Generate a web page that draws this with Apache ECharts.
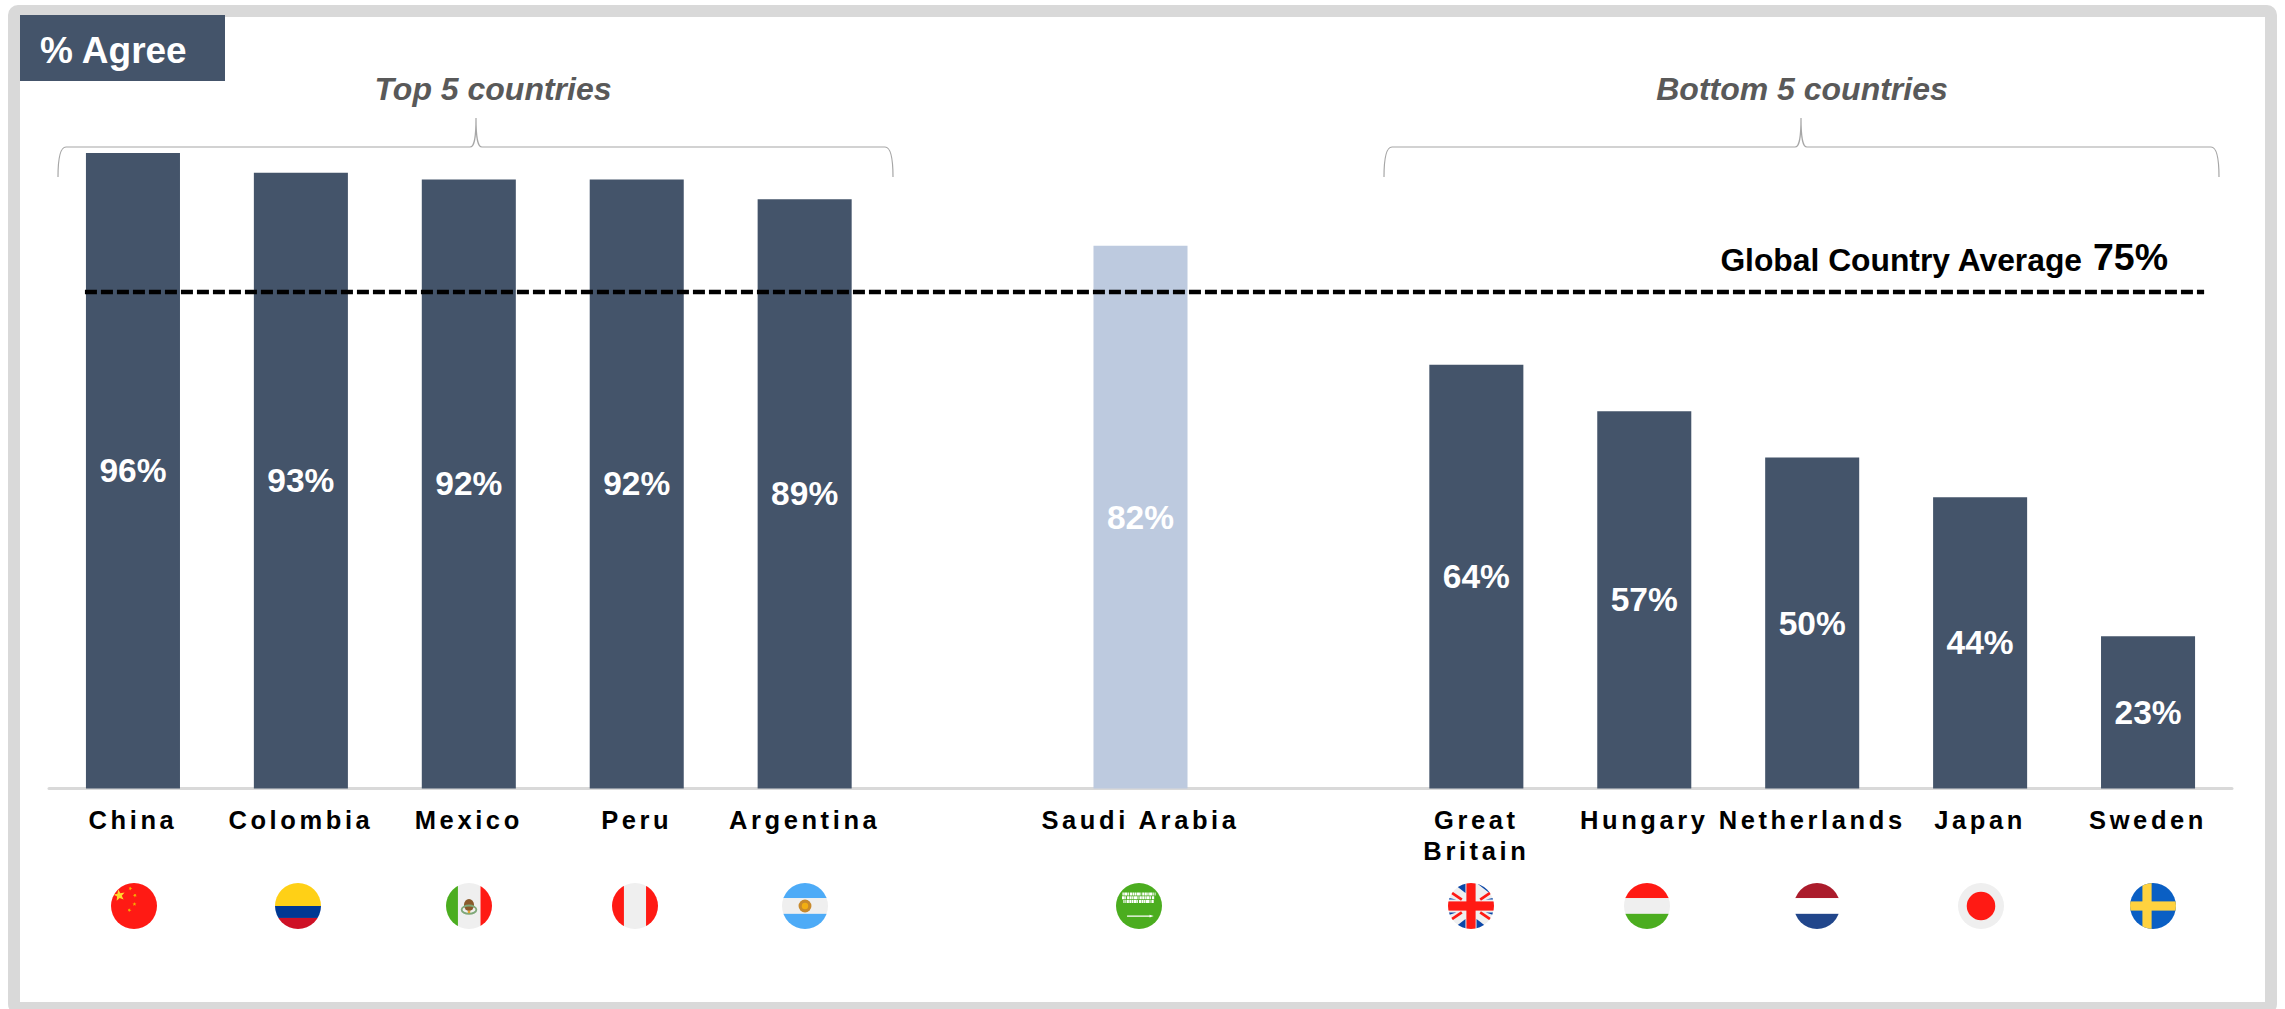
<!DOCTYPE html>
<html>
<head>
<meta charset="utf-8">
<title>% Agree</title>
<style>
html,body{margin:0;padding:0;background:#fff;}
#main{width:2285px;height:1009px;}
#main text[style*="25.5px"]{letter-spacing:3.6px;}
</style>
<script src="https://cdn.jsdelivr.net/npm/echarts@6/dist/echarts.min.js"></script>
</head>
<body>
<div id="main"></div>
<script>
const categories = ['China','Colombia','Mexico','Peru','Argentina','','Saudi Arabia','','Great\nBritain','Hungary','Netherlands','Japan','Sweden'];
const agreeValues = [96,93,92,92,89,null,82,null,64,57,50,44,23];
const highlightedCategory = 'Saudi Arabia';
const globalAverage = 75;
const averageLineSpan = [0.214,12.834];
const groupTitles = ['Top 5 countries','Bottom 5 countries'];
const chartTag = '% Agree';
const averageLabel = 'Global Country Average';

const NAVY = '#44546a', LIGHT = '#bdcadf', FONT = '"Liberation Sans",Arial,sans-serif';

function flagUri(body){
  const svg = '<svg xmlns="http://www.w3.org/2000/svg" viewBox="0 0 100 100"><defs><clipPath id="c"><circle cx="50" cy="50" r="50"/></clipPath></defs><g clip-path="url(#c)">'+body+'</g></svg>';
  return 'data:image/svg+xml;charset=utf-8,'+encodeURIComponent(svg);
}
const R=(x,y,w,h,f)=>`<rect x="${x}" y="${y}" width="${w}" height="${h}" fill="${f}"/>`;
const star=(cx,cy,r,f,rot=0)=>{let p=[];for(let i=0;i<10;i++){const a=(rot-90+i*36)*Math.PI/180,q=i%2?r*0.42:r;p.push((cx+q*Math.cos(a)).toFixed(1)+','+(cy+q*Math.sin(a)).toFixed(1));}return `<polygon points="${p.join(' ')}" fill="${f}"/>`;};
const RED='#ff1a14', GREY='#efefef', GREEN='#4bad1f';
const flags = [
 {x:134, body:R(0,0,100,100,RED)+star(18,27,13,'#ffd92e',-10)+star(42,12,4.5,'#f4b400',20)+star(52,27,4.5,'#f4b400',40)+star(51,46,4.5,'#f4b400',0)+star(40,59,4.5,'#f4b400',20)},
 {x:298, body:R(0,0,100,50,'#ffd016')+R(0,50,100,26,'#003893')+R(0,76,100,24,'#ce1126')},
 {x:469, body:R(0,0,26,100,GREEN)+R(26,0,49,100,GREY)+R(75,0,25,100,RED)+'<ellipse cx="50" cy="48" rx="11" ry="13" fill="#8a5a2b"/><ellipse cx="50" cy="58" rx="16" ry="9" fill="none" stroke="#7fa878" stroke-width="4"/><circle cx="50" cy="63" r="3" fill="#e0a030"/>'},
 {x:635, body:R(0,0,26,100,RED)+R(26,0,48,100,GREY)+R(74,0,26,100,RED)},
 {x:805, body:R(0,0,100,33,'#4dabf7')+R(0,33,100,34,GREY)+R(0,67,100,33,'#4dabf7')+'<circle cx="50" cy="50" r="14" fill="#c98a2c"/><circle cx="50" cy="50" r="7" fill="#f2ae12"/>'},
 {x:1139, body:R(0,0,100,100,GREEN)+'<g stroke="#fff" stroke-width="6.5" stroke-dasharray="3 1 7 1 2 2 5 1 4 1" fill="none"><path d="M14 24H86"/><path d="M13 32H84" stroke-dashoffset="5"/><path d="M16 40H82" stroke-dashoffset="9"/></g><path d="M24 72H74" stroke="#fff" stroke-width="2.5"/><path d="M73 69L82 72L73 75Z" fill="#fff"/>'},
 {x:1471, body:R(0,0,100,100,GREY)+'<g fill="#0b47a8"><path d="M10 0H38V22Z M62 0H90V22Z M0 32V36L18 36Z M100 32V36L82 36Z M0 64H18L0 70Z M100 64H82L100 70Z M38 78V100H10Z M62 78L90 100H62Z"/></g><g stroke="'+RED+'" stroke-width="6"><path d="M6 20L30 36"/><path d="M94 20L70 36"/><path d="M6 80L30 64"/><path d="M94 80L70 64"/></g>'+R(40,0,20,100,RED)+R(0,40,100,20,RED)},
 {x:1647, body:R(0,0,100,33,RED)+R(0,33,100,34,GREY)+R(0,67,100,33,GREEN)},
 {x:1817, body:R(0,0,100,33,'#ab1c2c')+R(0,33,100,34,'#fff')+R(0,67,100,33,'#21468b')},
 {x:1981, body:R(0,0,100,100,GREY)+'<circle cx="50" cy="50" r="31" fill="'+RED+'"/>'},
 {x:2153, body:R(0,0,100,100,'#0a5fc4')+R(27,0,20,100,'#ffd23f')+R(0,40,100,20,'#ffd23f')}
];
const FLAG_D = 46, FLAG_Y = 906;

echarts.graphic.registerShape('braceTop', echarts.graphic.extendPath('M58 177C58 158 60 147 66 147L470 147C474 147 476 140 476 118C476 140 478 147 482 147L885 147C891 147 893 158 893 177',{}));
echarts.graphic.registerShape('braceBottom', echarts.graphic.extendPath('M1384 177C1384 158 1386 147 1392 147L1795 147C1799 147 1801 140 1801 118C1801 140 1803 147 1807 147L2211 147C2217 147 2219 158 2219 177',{}));

const chart = echarts.init(document.getElementById('main'), null, {renderer:'svg', width:2285, height:1009});
chart.setOption({
  animation:false,
  backgroundColor:'#fff',
  grid:{left:49,right:53,top:126.5,bottom:220.5,containLabel:false},
  xAxis:[
    {type:'category',data:categories,
     axisTick:{show:false},
     axisLine:{lineStyle:{color:'#d9d9d9',width:3}},
     axisLabel:{interval:0,margin:16,color:'#000',fontFamily:FONT,fontWeight:'bold',fontSize:25.5,lineHeight:31,hideOverlap:false,verticalAlign:'top'}},
    {type:'value',min:0,max:categories.length,show:false}
  ],
  yAxis:{type:'value',min:0,max:100,show:false,splitLine:{show:false}},
  series:[
    {type:'bar',xAxisIndex:0,yAxisIndex:0,barWidth:'56%',silent:true,
     data:agreeValues.map((v,i)=>({value:v,itemStyle:{color:categories[i]===highlightedCategory?LIGHT:NAVY}})),
     label:{show:true,position:'inside',formatter:p=>p.value==null?'':p.value+'%',color:'#fff',fontFamily:FONT,fontWeight:'bold',fontSize:33.5}},
    {type:'line',xAxisIndex:1,yAxisIndex:0,silent:true,symbol:'none',z:5,
     data:averageLineSpan.map(x=>[x,globalAverage]),
     lineStyle:{color:'#000',width:4.5,type:[12,4]}}
  ],
  graphic:{elements:[
    {type:'rect',z:1,silent:true,shape:{x:14,y:11,width:2257,height:997,r:4},style:{fill:null,stroke:'#d9d9d9',lineWidth:12}},
    {type:'rect',z:2,silent:true,shape:{x:20,y:15,width:205,height:66},style:{fill:NAVY}},
    {type:'text',z:3,silent:true,x:40,y:50,style:{text:chartTag,fill:'#fff',font:'bold 37px '+FONT,textAlign:'left',textVerticalAlign:'middle'}},
    {type:'text',z:3,silent:true,x:493,y:89,style:{text:groupTitles[0],fill:'#595959',font:'italic bold 32px '+FONT,textAlign:'center',textVerticalAlign:'middle'}},
    {type:'text',z:3,silent:true,x:1802,y:89,style:{text:groupTitles[1],fill:'#595959',font:'italic bold 32px '+FONT,textAlign:'center',textVerticalAlign:'middle'}},
    {type:'braceTop',z:3,silent:true,style:{fill:null,stroke:'#a6a6a6',lineWidth:1.2}},
    {type:'braceBottom',z:3,silent:true,style:{fill:null,stroke:'#a6a6a6',lineWidth:1.2}},
    {type:'text',z:6,silent:true,x:2082,y:260,style:{text:averageLabel,fill:'#000',font:'bold 31.8px '+FONT,textAlign:'right',textVerticalAlign:'middle'}},
    {type:'text',z:6,silent:true,x:2168,y:257,style:{text:globalAverage+'%',fill:'#000',font:'bold 37.5px '+FONT,textAlign:'right',textVerticalAlign:'middle'}}
  ].concat(flags.map(f=>({type:'image',z:3,silent:true,style:{image:flagUri(f.body),x:f.x-FLAG_D/2,y:FLAG_Y-FLAG_D/2,width:FLAG_D,height:FLAG_D}})))}
});
</script>
</body>
</html>
